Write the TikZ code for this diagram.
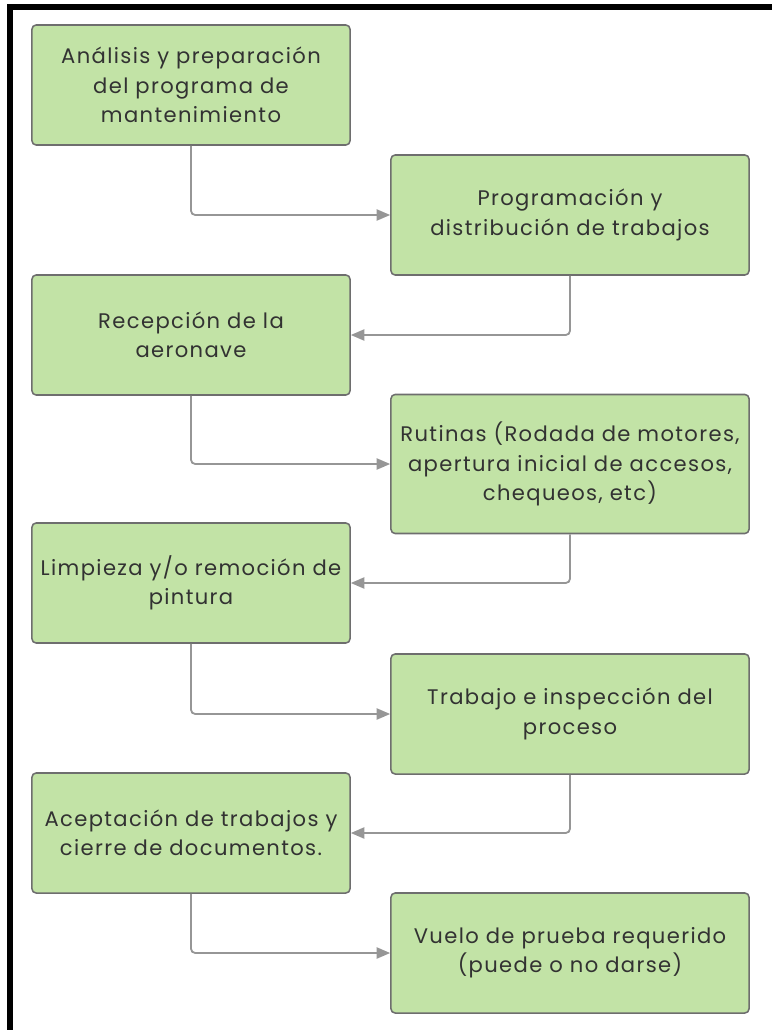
\documentclass[tikz,border=0pt]{standalone}
\usepackage{fontspec}
\setmainfont{Poppins}[LetterSpace=6.5]
\usetikzlibrary{arrows.meta,positioning,calc}

\definecolor{boxgreen}{RGB}{194,227,166}
\definecolor{boxline}{RGB}{110,110,110}
\definecolor{boxtext}{RGB}{50,50,50}
\definecolor{arrgray}{RGB}{150,150,150}

\begin{document}
\begin{tikzpicture}[
  x=0.025cm, y=-0.025cm,
  >={Triangle[length=3.4mm, width=2.8mm]},
  stage/.style={draw=boxline, line width=1.1pt, rounded corners=3pt,
              fill=boxgreen, minimum height=3cm, align=center,
              text=boxtext, font=\fontsize{15}{20.8}\selectfont,
              inner sep=2pt},
  stageL/.style={stage, minimum width=7.95cm},
  stageR/.style={stage, minimum width=8.95cm},
  arr/.style={->, draw=arrgray, line width=1.3pt, rounded corners=3pt},
]
\useasboundingbox (0,0) rectangle (772,1030);

% frame
\draw[line width=4pt] (10,1030) -- (10,7) -- (772,7);

% === Left column ===
\node[stageL] (analisis) at (191,85) {Análisis y preparación\\del programa de\\mantenimiento};
\node[stageL] (recepcion) at (191,335) {Recepción de la\\aeronave};
\node[stageL] (limpieza) at (191,583) {Limpieza y/o remoción de\\pintura};
\node[stageL] (aceptacion) at (191,833) {Aceptación de trabajos y\\cierre de documentos.};

% === Right column ===
\node[stageR] (programacion) at (570,215) {Programación y\\distribución de trabajos};
\node[stageR, minimum height=3.475cm] (rutinas) at (570,464) {Rutinas (Rodada de motores,\\apertura inicial de accesos,\\chequeos, etc)};
\node[stageR] (trabajo) at (570,714) {Trabajo e inspección del\\proceso};
\node[stageR] (vuelo) at (570,953) {Vuelo de prueba requerido\\(puede o no darse)};

% Arrows
\draw[arr] (analisis.south) |- (programacion.west);
\draw[arr] (programacion.south) |- (recepcion.east);
\draw[arr] (recepcion.south) |- (rutinas.west);
\draw[arr] (rutinas.south) |- (limpieza.east);
\draw[arr] (limpieza.south) |- (trabajo.west);
\draw[arr] (trabajo.south) |- (aceptacion.east);
\draw[arr] (aceptacion.south) |- (vuelo.west);

\end{tikzpicture}
\end{document}
